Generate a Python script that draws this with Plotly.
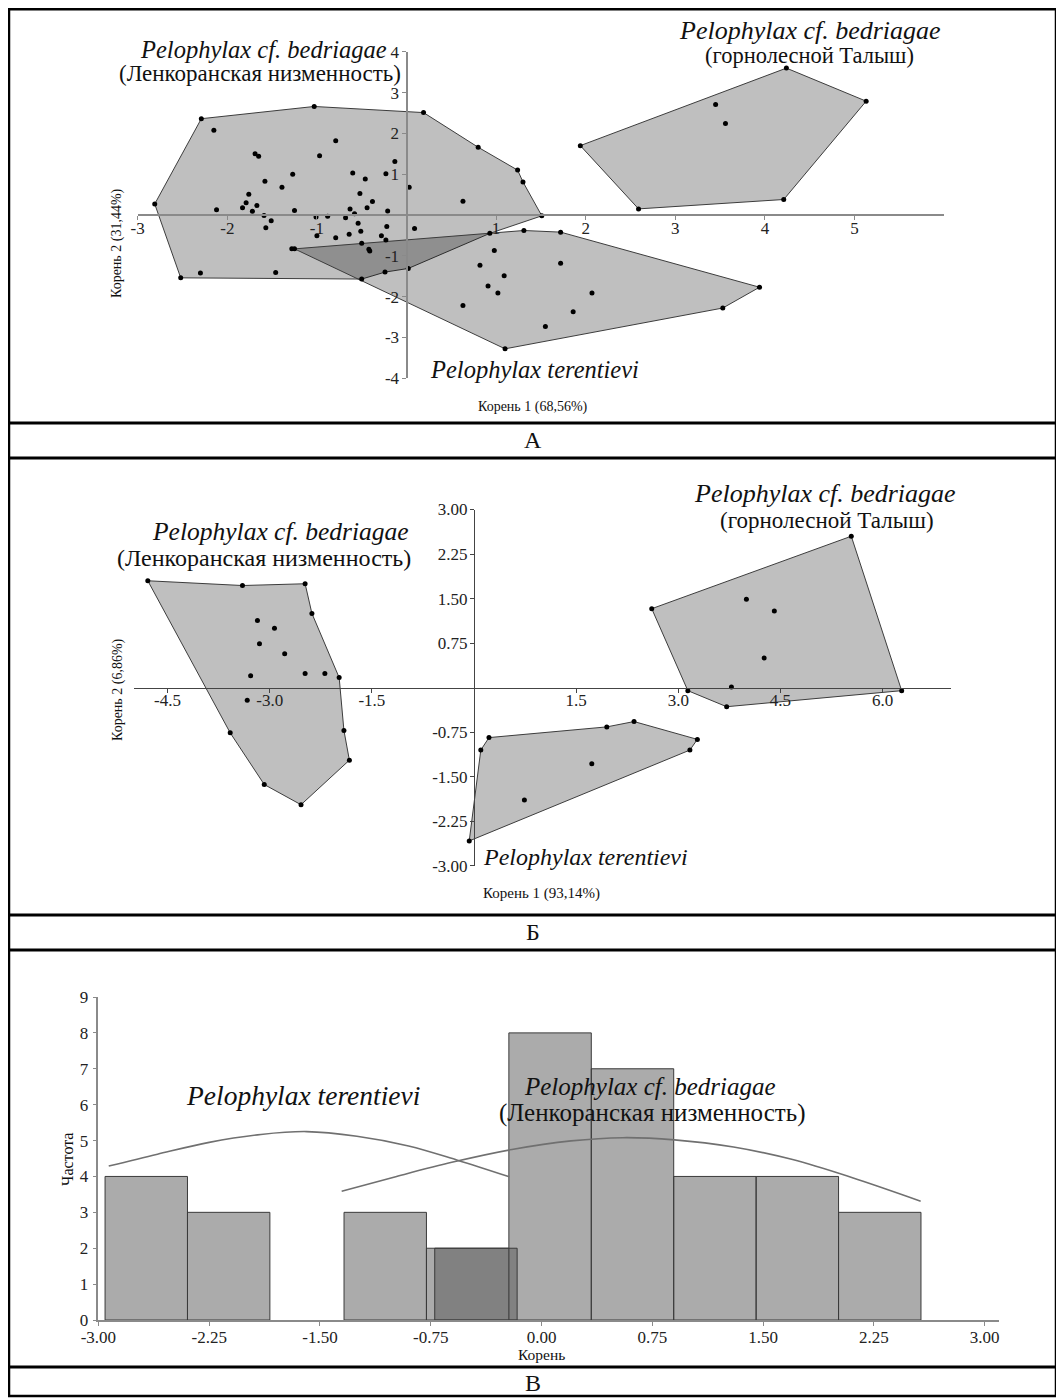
import plotly.graph_objects as go

# page is 1064x1398; the plot div sits at the default 8px body offset
OFF = 8
W, H = 1056, 1390
SERIF = "Liberation Serif, Times New Roman, serif"

# ---------------- Panel A data ----------------
a_lenk_hull_x = [-2.81, -2.29, -1.03, 0.19, 0.80, 1.24, 1.30, 1.51, 0.93, 0.02, -0.24, -0.50, -2.52]
a_lenk_hull_y = [0.27, 2.36, 2.66, 2.51, 1.66, 1.10, 0.81, -0.02, -0.45, -1.31, -1.40, -1.57, -1.54]
a_lenk_x = [-2.15, -1.69, -1.65, -0.97, -0.79, -1.27, -0.60, -0.46, -0.23, -0.13, 0.03, -1.58, -1.39,
            -1.76, -1.79, -1.83, -1.72, -1.67, -2.12, -1.59, -1.51, -1.57, -1.25, -1.01, -0.88, -1.00,
            -0.79, -0.68, -0.63, -0.58, -0.52, -0.44, -0.38, -0.54, -0.51, -0.64, -0.50, -0.42, -0.41,
            -0.28, -0.22, -0.23, -0.21, 0.09, 0.63, -1.46, -2.30, -1.28]
a_lenk_y = [2.08, 1.50, 1.44, 1.45, 1.82, 1.00, 1.03, 0.88, 1.01, 1.31, 0.68, 0.83, 0.68,
            0.51, 0.30, 0.18, 0.09, 0.23, 0.13, -0.01, -0.14, -0.31, 0.11, -0.05, -0.03, -0.51,
            -0.56, -0.07, 0.15, 0.03, 0.53, 0.18, 0.33, -0.20, -0.40, -0.47, -0.69, -0.84, -0.88,
            -0.51, -0.28, -0.61, 0.10, -0.33, 0.34, -1.41, -1.42, -0.83]
a_ter_hull_x = [-1.25, 1.31, 1.72, 3.94, 3.53, 1.10]
a_ter_hull_y = [-0.83, -0.38, -0.42, -1.77, -2.28, -3.28]
a_ter_x = [0.98, 0.82, 1.09, 0.91, 1.02, 1.72, 2.07, 1.86, 0.63, 1.55]
a_ter_y = [-0.87, -1.23, -1.49, -1.74, -1.91, -1.18, -1.91, -2.37, -2.22, -2.73]
a_tal_hull_x = [1.94, 4.24, 5.13, 4.21, 2.59]
a_tal_hull_y = [1.70, 3.60, 2.79, 0.38, 0.15]
a_tal_x = [3.45, 3.56]
a_tal_y = [2.71, 2.24]
a_xticks = [-3, -2, -1, 1, 2, 3, 4, 5]
a_yticks = [4, 3, 2, 1, -1, -2, -3, -4]

# ---------------- Panel B data ----------------
b_lenk_hull_x = [-4.79, -3.40, -2.48, -2.38, -1.98, -1.91, -1.83, -2.54, -3.08, -3.58]
b_lenk_hull_y = [1.80, 1.72, 1.75, 1.25, 0.17, -0.72, -1.22, -1.97, -1.63, -0.76]
b_lenk_x = [-3.18, -2.93, -3.15, -2.78, -3.28, -2.48, -2.19, -3.33]
b_lenk_y = [1.13, 1.00, 0.74, 0.57, 0.20, 0.24, 0.24, -0.21]
b_ter_hull_x = [0.22, 1.95, 2.35, 3.28, 3.17, -0.07, 0.10]
b_ter_hull_y = [-0.84, -0.66, -0.57, -0.87, -1.05, -2.58, -1.05]
b_ter_x = [1.73, 0.74]
b_ter_y = [-1.28, -1.89]
b_tal_hull_x = [2.61, 5.54, 6.28, 3.71, 3.14]
b_tal_hull_y = [1.33, 2.55, -0.05, -0.32, -0.05]
b_tal_x = [4.00, 4.41, 4.26, 3.78]
b_tal_y = [1.49, 1.29, 0.50, 0.01]
b_xticks = [-4.5, -3.0, -1.5, 1.5, 3.0, 4.5, 6.0]
b_xlabels = ["-4.5", "-3.0", "-1.5", "1.5", "3.0", "4.5", "6.0"]
b_yticks = [3.0, 2.25, 1.5, 0.75, -0.75, -1.5, -2.25, -3.0]
b_ylabels = ["3.00", "2.25", "1.50", "0.75", "-0.75", "-1.50", "-2.25", "-3.00"]

# ---------------- Panel C data ----------------
bin_width = 0.558
ter_bin_left = [-2.955, -2.397, -0.723]
ter_counts = [4, 3, 2]
bed_bin_left = [-1.337, -0.779, -0.221, 0.337, 0.895, 1.453, 2.011]
bed_counts = [3, 2, 8, 7, 4, 4, 3]
ter_curve_x = [-2.93, -2.6, -2.25, -1.9, -1.59, -1.25, -0.9, -0.574, -0.218]
ter_curve_y = [4.29, 4.62, 4.95, 5.17, 5.25, 5.12, 4.85, 4.46, 3.99]
bed_curve_x = [-1.353, -1.0, -0.6, -0.2, 0.2, 0.55, 0.9, 1.3, 1.7, 2.1, 2.567]
bed_curve_y = [3.59, 3.98, 4.40, 4.75, 4.99, 5.08, 5.02, 4.82, 4.47, 3.97, 3.31]
c_xticks = [-3.0, -2.25, -1.5, -0.75, 0.0, 0.75, 1.5, 2.25, 3.0]
c_xlabels = ["-3.00", "-2.25", "-1.50", "-0.75", "0.00", "0.75", "1.50", "2.25", "3.00"]
c_yticks = list(range(0, 10))

# ---------------- helpers (reference-page pixels -> paper) ----------------
def PX(px):
    return (px - OFF) / W

def PY(py):
    return 1 - (py - OFF) / H

def xdom(p0, p1):
    return [PX(p0), PX(p1)]

def ydom(top, bot):
    return [PY(bot), PY(top)]

def cross(dom, rng, val=0.0):
    return dom[0] + (val - rng[0]) / (rng[1] - rng[0]) * (dom[1] - dom[0])

FILL = "rgba(0,0,0,0.25)"
EDGE = "#3c3c3c"

fig = go.Figure()

def poly(hx, hy, xa, ya):
    fig.add_trace(go.Scatter(x=hx + hx[:1], y=hy + hy[:1], mode="lines", fill="toself",
                             fillcolor=FILL, line=dict(color=EDGE, width=1),
                             xaxis=xa, yaxis=ya, hoverinfo="skip", showlegend=False))

def pts(px, py, xa, ya):
    fig.add_trace(go.Scatter(x=px, y=py, mode="markers", marker=dict(color="black", size=5),
                             xaxis=xa, yaxis=ya, showlegend=False))

# Panel A
poly(a_lenk_hull_x, a_lenk_hull_y, "x", "y")
poly(a_ter_hull_x, a_ter_hull_y, "x", "y")
poly(a_tal_hull_x, a_tal_hull_y, "x", "y")
pts(a_lenk_hull_x + a_lenk_x, a_lenk_hull_y + a_lenk_y, "x", "y")
pts(a_ter_hull_x + a_ter_x, a_ter_hull_y + a_ter_y, "x", "y")
pts(a_tal_hull_x + a_tal_x, a_tal_hull_y + a_tal_y, "x", "y")

# Panel B
poly(b_lenk_hull_x, b_lenk_hull_y, "x2", "y2")
poly(b_ter_hull_x, b_ter_hull_y, "x2", "y2")
poly(b_tal_hull_x, b_tal_hull_y, "x2", "y2")
pts(b_lenk_hull_x + b_lenk_x, b_lenk_hull_y + b_lenk_y, "x2", "y2")
pts(b_ter_hull_x + b_ter_x, b_ter_hull_y + b_ter_y, "x2", "y2")
pts(b_tal_hull_x + b_tal_x, b_tal_hull_y + b_tal_y, "x2", "y2")

# Panel C
BAR = "rgba(87,87,87,0.5)"
fig.add_trace(go.Bar(x=bed_bin_left, y=bed_counts, width=bin_width, offset=0,
                     marker=dict(color=BAR, line=dict(color="#3a3a3a", width=1)),
                     xaxis="x3", yaxis="y3", showlegend=False))
fig.add_trace(go.Bar(x=ter_bin_left, y=ter_counts, width=bin_width, offset=0,
                     marker=dict(color=BAR, line=dict(color="#3a3a3a", width=1)),
                     xaxis="x3", yaxis="y3", showlegend=False))
fig.add_trace(go.Scatter(x=ter_curve_x, y=ter_curve_y, mode="lines",
                         line=dict(color="#707070", width=1.6, shape="spline"),
                         xaxis="x3", yaxis="y3", showlegend=False))
fig.add_trace(go.Scatter(x=bed_curve_x, y=bed_curve_y, mode="lines",
                         line=dict(color="#707070", width=1.6, shape="spline"),
                         xaxis="x3", yaxis="y3", showlegend=False))

# ---------------- axes ----------------
A_xr, A_yr = [-3.0, 6.0], [-4.0, 4.0]
A_xd, A_yd = xdom(137.7, 944.1), ydom(51.8, 378.2)
B_xr, B_yr = [-5.0, 7.0], [-3.0, 3.0]
B_xd, B_yd = xdom(133.5, 950.7), ydom(509.5, 865.9)
C_xr, C_yr = [-3.0, 3.1], [0, 9]
C_xd, C_yd = xdom(98.4, 999.4), ydom(997.0, 1320.0)

def common(size, standoff=0, ticklen=5):
    return dict(showgrid=False, zeroline=False, showline=True, ticks="outside", ticklen=ticklen, tickwidth=1,
                automargin=False, ticklabelstandoff=standoff,
                tickfont=dict(family=SERIF, size=size, color="#222"))

fig.update_layout(
    xaxis=dict(domain=A_xd, range=A_xr, anchor="free", position=cross(A_yd, A_yr),
               tickvals=a_xticks, ticktext=[str(v) for v in a_xticks],
               linecolor="#8a8a8a", linewidth=2, tickcolor="#8a8a8a", **common(17, -6, 4)),
    yaxis=dict(domain=A_yd, range=A_yr, anchor="free", position=cross(A_xd, A_xr),
               tickvals=a_yticks, ticktext=[str(v) for v in a_yticks],
               linecolor="#8a8a8a", linewidth=2, tickcolor="#8a8a8a", **common(17, -1, 4)),
    xaxis2=dict(domain=B_xd, range=B_xr, anchor="free", position=cross(B_yd, B_yr),
                tickvals=b_xticks, ticktext=b_xlabels,
                linecolor="#444", linewidth=1, tickcolor="#444", **common(17, -7, 4)),
    yaxis2=dict(domain=B_yd, range=B_yr, anchor="free", position=cross(B_xd, B_xr),
                tickvals=b_yticks, ticktext=b_ylabels,
                linecolor="#444", linewidth=1, tickcolor="#444", **common(17, -1, 4)),
    xaxis3=dict(domain=C_xd, range=C_xr, anchor="y3", tickvals=c_xticks, ticktext=c_xlabels,
                linecolor="#8a8a8a", linewidth=1.5, tickcolor="#8a8a8a", **common(17, -3, 4)),
    yaxis3=dict(domain=C_yd, range=C_yr, anchor="x3", tickvals=c_yticks,
                linecolor="#8a8a8a", linewidth=1.5, tickcolor="#8a8a8a", **common(17, 1, 4)),
    barmode="overlay",
    width=W, height=H,
    margin=dict(l=0, r=0, t=0, b=0, pad=0, autoexpand=False),
    paper_bgcolor="white", plot_bgcolor="rgba(0,0,0,0)",
    showlegend=False,
)

# ---------------- text ----------------
anns = []

def ann(text, px, py, size, xanchor="center", italic=False, angle=0):
    t = f"<i>{text}</i>" if italic else text
    anns.append(dict(text=t, x=PX(px), y=PY(py), xref="paper", yref="paper", showarrow=False,
                     xanchor=xanchor, yanchor="middle", textangle=angle,
                     font=dict(family=SERIF, size=size, color="#111")))

# Panel A
ann("Pelophylax cf. bedriagae", 389, 50, 24.5, "right", True)
ann("(Ленкоранская низменность)", 403, 73, 23, "right")
ann("Pelophylax cf. bedriagae", 810, 31, 26, "center", True)
ann("(горнолесной Талыш)", 809, 55, 22.5, "center")
ann("Pelophylax terentievi", 534, 369, 24.5, "center", True)
ann("Корень 1 (68,56%)", 533, 407, 14)
ann("Корень 2 (31,44%)", 117, 243, 14, angle=-90)
# Panel B
ann("Pelophylax cf. bedriagae", 411, 531, 25.5, "right", True)
ann("(Ленкоранская низменность)", 413, 558, 24, "right")
ann("Pelophylax cf. bedriagae", 825, 493, 26, "center", True)
ann("(горнолесной Талыш)", 827, 520, 23, "center")
ann("Pelophylax terentievi", 585, 857, 24, "center", True)
ann("Корень 1 (93,14%)", 541, 893, 15)
ann("Корень 2 (6,86%)", 118, 690, 14, angle=-90)
# Panel C
ann("Pelophylax terentievi", 303, 1095, 27.5, "center", True)
ann("Pelophylax cf. bedriagae", 650, 1086, 25, "center", True)
ann("(Ленкоранская низменность)", 652, 1113, 25, "center")
ann("Частота", 67, 1160, 16, angle=-90)
ann("Корень", 541, 1354, 15.5)
# Section labels
ann("А", 533, 440, 24)
ann("Б", 533, 932, 24)
ann("В", 533, 1383, 24)

fig.update_layout(annotations=anns)

# ---------------- frame ----------------
shapes = [dict(type="rect", xref="paper", yref="paper", x0=PX(9), x1=PX(1056), y0=PY(1396), y1=PY(9.3),
               line=dict(color="black", width=2.5), layer="above")]
for yy in [423, 458, 915, 950, 1367]:
    shapes.append(dict(type="line", xref="paper", yref="paper", x0=PX(9), x1=PX(1056), y0=PY(yy), y1=PY(yy),
                       line=dict(color="black", width=3), layer="above"))
fig.update_layout(shapes=shapes)

fig.write_html("out.html")
